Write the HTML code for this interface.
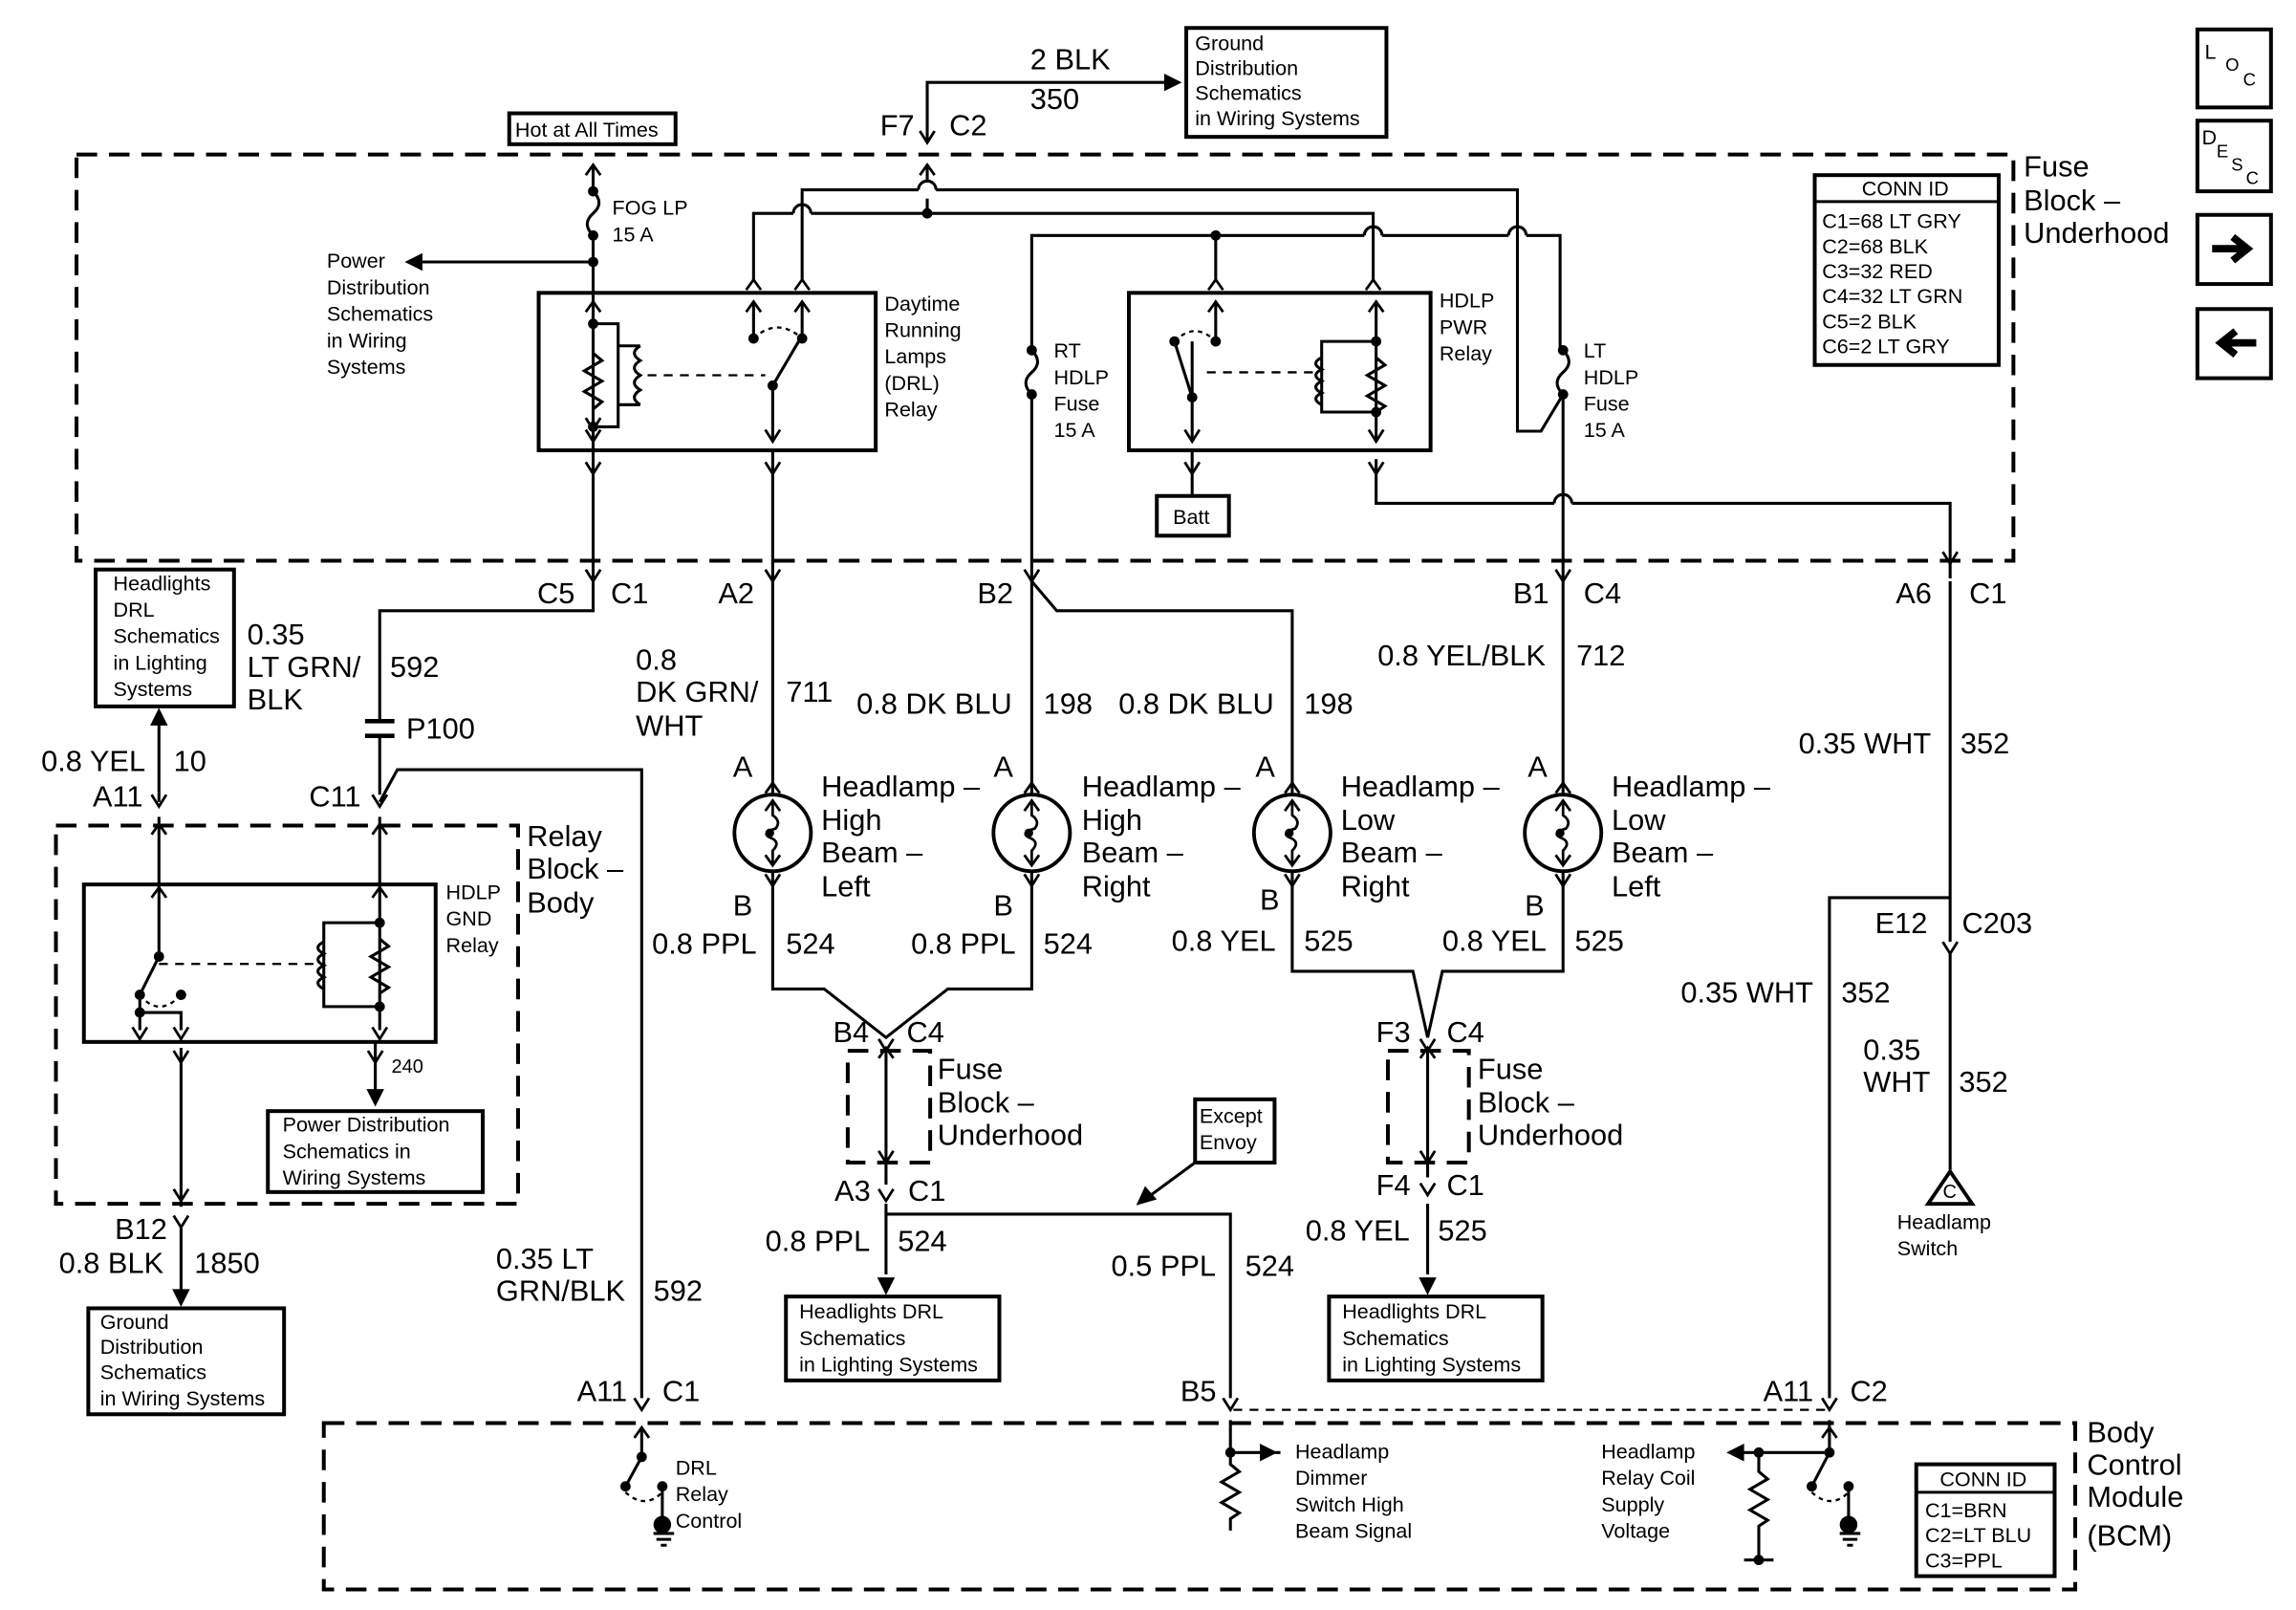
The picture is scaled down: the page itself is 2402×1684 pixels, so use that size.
<!DOCTYPE html>
<html><head><meta charset="utf-8"><style>
html,body{margin:0;padding:0;background:#fff;}
svg{display:block;}
text{font-family:"Liberation Sans",Arial,sans-serif;fill:#000;}
.b{font-size:20px;}
.s{font-size:14px;}
</style></head><body>
<svg width="2402" height="1684" viewBox="0 0 1560 1094" preserveAspectRatio="none" xmlns="http://www.w3.org/2000/svg">
<defs>
<path id="fy" d="M-5,-8 L0,0 L5,-8" fill="none" stroke="#000" stroke-width="1.8"/>
<path id="ca" d="M-5,7 L0,0 L5,7" fill="none" stroke="#000" stroke-width="1.8"/>
<path id="ah" d="M-6,-12 L6,-12 L0,0 Z" fill="#000"/>
<g id="lamp">
<circle r="26" fill="none" stroke="#000" stroke-width="2.5"/>
<path d="M0,-22 L0,-12 Q6,-8 2,-3 Q-8,0 -2,3 Q6,6 0,12 L0,22" fill="none" stroke="#000" stroke-width="1.8"/>
<path d="M-5,-15 L0,-22 L5,-15 M-5,15 L0,22 L5,15" fill="none" stroke="#000" stroke-width="1.8"/>
<circle cx="-2" cy="0" r="3" fill="#000"/>
</g>
</defs>
<g fill="none" stroke="#000" stroke-width="2">
<g stroke-width="2.6" stroke-dasharray="14,8">
<rect x="52" y="105" width="1316" height="276"/>
<rect x="38" y="561" width="314" height="257"/>
<rect x="220" y="967" width="1190" height="113"/>
<rect x="576" y="714" width="56" height="76"/>
<rect x="943" y="714" width="55" height="76"/>
</g>
<path d="M838,958 H1243" stroke-width="1.5" stroke-dasharray="6,5"/>
<g stroke-width="2.6">
<rect x="346" y="77" width="113" height="21"/>
<rect x="806" y="19" width="136" height="74"/>
<rect x="1233" y="119" width="125" height="129"/>
<rect x="366" y="199" width="229" height="107"/>
<rect x="767" y="199" width="205" height="107"/>
<rect x="786" y="337" width="49" height="27"/>
<rect x="65" y="387" width="94" height="93"/>
<rect x="57" y="601" width="239" height="107"/>
<rect x="182" y="755" width="146" height="55"/>
<rect x="60" y="889" width="133" height="72"/>
<rect x="534" y="881" width="145" height="57"/>
<rect x="903" y="881" width="145" height="57"/>
<rect x="812" y="747" width="54" height="43"/>
<rect x="1302" y="995" width="94" height="76"/>
<rect x="1493" y="20" width="50" height="53"/>
<rect x="1493" y="82" width="50" height="48"/>
<rect x="1493" y="146" width="50" height="47"/>
<rect x="1493" y="210" width="50" height="47"/>
</g>
<path d="M1233,137 H1358 M1302,1014 H1396"/>
<path d="M1503,169 H1525 M1517,161 L1527,169 L1517,177" stroke-width="5" fill="none"/>
<path d="M1533,233 H1511 M1519,225 L1509,233 L1519,241" stroke-width="5"/>

<path d="M630,95 V56 H795"/>
<path d="M630,112 V124 M630,135 V145"/>
<path d="M624,129 a6,6 0 0 1 12,0" />
<path d="M545,190 V129 H624 M636,129 H1031 V293 H1047 L1062,268"/>
<path d="M512,190 V145 H539 M551,145 H933 V190"/>
<path d="M539,145 a6,6 0 0 1 12,0"/>
<path d="M701,238 V160 H927 M939,160 H1025 M1037,160 H1060 V238"/>
<path d="M927,160 a6,6 0 0 1 12,0 M1025,160 a6,6 0 0 1 12,0"/>
<path d="M826,160 V190"/>
<path d="M701,238 Q709,246 701,253 Q693,260 701,268 V393"/>
<path d="M1062,238 Q1070,246 1062,253 Q1054,260 1062,268 V393"/>
<path d="M403,112 V130 M403,130 Q411,138 403,145 Q395,152 403,160 V393"/>
<path d="M403,178 H280"/>
<path d="M403,205 V300 M403,220 H420 V290 H403"/>
<path d="M403,240 l6,5 l-12,7 l12,7 l-12,7 l12,7 l-6,5"/>
<path d="M435,235 q-8,5 0,10 q-8,5 0,10 q-8,5 0,10 q-8,5 0,10 M435,235 H420 M435,275 H420"/>
<path d="M440,255 H520" stroke-dasharray="6,5" stroke-width="1.5"/>
<path d="M512,205 V230 M545,205 V228 L525,262 M525,262 V300"/>
<path d="M512,230 Q528,215 545,230" stroke-dasharray="3,3" stroke-width="1.5"/>
<path d="M525,306 V393"/>
<path d="M826,205 V232 M810,232 L810,270 V300 M810,270 L798,232"/>
<path d="M798,232 Q812,218 826,232" stroke-dasharray="3,3" stroke-width="1.5"/>
<path d="M935,205 V300 M935,232 H898 V280 H935"/>
<path d="M935,243 l6,5 l-12,7 l12,7 l-12,7 l12,7 l-6,4"/>
<path d="M898,243 q-8,4 0,8 q-8,4 0,8 q-8,4 0,8 q-8,4 0,8"/>
<path d="M820,253 H895" stroke-dasharray="6,5" stroke-width="1.5"/>
<path d="M810,306 V337"/>
<path d="M935,312 V342 H1056 M1068,342 H1325 V393"/>
<path d="M1056,342 a6,6 0 0 1 12,0"/>

<path d="M403,395 V415 H258 V490 M258,500 V540"/>
<path d="M248,490 H268 M248,500 H268" stroke-width="3"/>
<path d="M258,545 L270,523 H436 V950"/>
<path d="M525,395 V540 M701,395 V540 M701,395 L718,415 H878 V540 M1062,395 V540 M1325,395 V640"/>
<path d="M525,592 V672 H560 L602,705 L644,672 H701 V592"/>
<path d="M878,592 V660 H960 L970,705 L980,660 H1062 V592"/>
<path d="M602,712 V805 M970,712 V800"/>
<path d="M602,818 V866 M602,825 H836 V950"/>
<path d="M970,818 V866"/>
<path d="M1325,648 V795 M1243,950 V610 H1325"/>
<path d="M1310,818 L1325,796 L1340,818 Z" stroke-width="2.5"/>
<path d="M812,790 L778,815"/>
<path d="M108,545 V490 M108,555 V650 L95,676 V700 M95,688 H123 V700"/>
<path d="M95,676 Q108,692 123,676" stroke-dasharray="3,3" stroke-width="1.5"/>
<path d="M108,655 H215" stroke-dasharray="6,5" stroke-width="1.5"/>
<path d="M258,555 V700 M258,627 H220 V684 H258"/>
<path d="M258,638 l6,5 l-12,7 l12,7 l-12,7 l12,7 l-6,4"/>
<path d="M220,640 q-8,4 0,8 q-8,4 0,8 q-8,4 0,8 q-8,4 0,8"/>
<path d="M255,708 V745 M123,712 V820 M123,832 V878"/>
<path d="M436,970 V990 L425,1010 M450,1010 V1032"/>
<path d="M425,1014 Q438,1026 450,1014" stroke-dasharray="3,3" stroke-width="1.5"/>
<path d="M444,1042 H458 M446,1046 H456 M449,1050 H453"/>
<path d="M836,965 V987 H870 M836,987 V995 l6,5 l-12,7 l12,7 l-12,7 l12,7 l-6,4 V1040"/>
<path d="M1243,965 V987 H1175 M1195,987 V1000 l6,5 l-12,7 l12,7 l-12,7 l12,7 l-6,4 V1060 M1185,1060 H1205 M1243,987 L1231,1010 M1256,1010 V1032"/>
<path d="M1231,1014 Q1244,1026 1256,1014" stroke-dasharray="3,3" stroke-width="1.5"/>
<path d="M1250,1042 H1264 M1252,1046 H1262 M1255,1050 H1259"/>
</g>
<g fill="#000">
<circle cx="630" cy="145" r="3.5"/><circle cx="826" cy="160" r="3.5"/>
<circle cx="403" cy="178" r="3.5"/><circle cx="403" cy="130" r="3.5"/><circle cx="403" cy="160" r="3.5"/>
<circle cx="701" cy="238" r="3.5"/><circle cx="701" cy="268" r="3.5"/>
<circle cx="1062" cy="238" r="3.5"/><circle cx="1062" cy="268" r="3.5"/>
<circle cx="403" cy="220" r="3.5"/><circle cx="403" cy="290" r="3.5"/>
<circle cx="512" cy="230" r="3.5"/><circle cx="545" cy="230" r="3.5"/><circle cx="525" cy="262" r="3.5"/>
<circle cx="798" cy="232" r="3.5"/><circle cx="826" cy="232" r="3.5"/><circle cx="810" cy="270" r="3.5"/>
<circle cx="935" cy="232" r="3.5"/><circle cx="935" cy="280" r="3.5"/>
<circle cx="108" cy="650" r="3.5"/><circle cx="95" cy="676" r="3.5"/><circle cx="123" cy="676" r="3.5"/><circle cx="95" cy="688" r="3.5"/>
<circle cx="258" cy="627" r="3.5"/><circle cx="258" cy="684" r="3.5"/>
<circle cx="436" cy="990" r="3.5"/><circle cx="425" cy="1010" r="3.5"/><circle cx="450" cy="1010" r="3.5"/><circle cx="450" cy="1036" r="6"/>
<circle cx="836" cy="987" r="3.5"/><circle cx="1195" cy="987" r="3.5"/><circle cx="1243" cy="987" r="3.5"/><circle cx="1195" cy="1060" r="3.5"/>
<circle cx="1231" cy="1010" r="3.5"/><circle cx="1256" cy="1010" r="3.5"/><circle cx="1256" cy="1036" r="6"/>
<path d="M803,56 L791,50 V62 Z"/>
<path d="M275,178 L287,172 V184 Z"/>
<path d="M868,987 L856,981 V993 Z"/>
<path d="M1173,987 L1185,981 V993 Z"/>
<path d="M772,819 L778,806 L786,815 Z"/>
<path d="M108,481 L102,493 H114 Z"/>
</g>
<g>
<use href="#fy" x="630" y="97"/><use href="#ca" x="630" y="112"/>
<use href="#ca" x="403" y="112"/>
<use href="#ca" x="512" y="190"/><use href="#ca" x="545" y="190"/><use href="#ca" x="826" y="190"/><use href="#ca" x="933" y="190"/>
<use href="#ca" x="512" y="205"/><use href="#ca" x="545" y="205"/><use href="#ca" x="826" y="205"/><use href="#ca" x="935" y="205"/><use href="#ca" x="403" y="205"/>
<use href="#fy" x="403" y="300"/><use href="#fy" x="525" y="300"/><use href="#fy" x="810" y="300"/><use href="#fy" x="935" y="300"/><use href="#fy" x="403" y="292"/>
<use href="#fy" x="403" y="322"/><use href="#fy" x="525" y="322"/><use href="#fy" x="810" y="322"/><use href="#fy" x="935" y="322"/>
<use href="#fy" x="403" y="395"/><use href="#fy" x="525" y="395"/><use href="#fy" x="701" y="395"/><use href="#fy" x="1062" y="395"/><use href="#fy" x="1325" y="383"/>
<use href="#ca" x="525" y="532"/><use href="#ca" x="701" y="532"/><use href="#ca" x="878" y="532"/><use href="#ca" x="1062" y="532"/>
<use href="#fy" x="525" y="602"/><use href="#fy" x="701" y="602"/><use href="#fy" x="878" y="602"/><use href="#fy" x="1062" y="602"/>
<use href="#fy" x="258" y="548"/><use href="#ca" x="258" y="560"/><use href="#ca" x="108" y="560"/><use href="#fy" x="108" y="548"/>
<use href="#ca" x="108" y="603"/><use href="#ca" x="258" y="603"/>
<use href="#fy" x="95" y="706"/><use href="#fy" x="123" y="706"/><use href="#fy" x="258" y="706"/>
<use href="#fy" x="123" y="722"/><use href="#fy" x="255" y="722"/><use href="#fy" x="123" y="816"/><use href="#fy" x="123" y="834"/>
<use href="#fy" x="602" y="714"/><use href="#ca" x="602" y="712"/><use href="#fy" x="602" y="790"/><use href="#fy" x="602" y="816"/>
<use href="#fy" x="970" y="714"/><use href="#ca" x="970" y="712"/><use href="#fy" x="970" y="790"/><use href="#fy" x="970" y="812"/>
<use href="#fy" x="1325" y="648"/>
<use href="#fy" x="436" y="958"/><use href="#fy" x="836" y="958"/><use href="#fy" x="1243" y="958"/>
<use href="#ca" x="436" y="970"/><use href="#ca" x="1243" y="970"/>
<use href="#ah" x="255" y="752"/><use href="#ah" x="123" y="888"/><use href="#ah" x="602" y="880"/><use href="#ah" x="970" y="880"/>
<use href="#lamp" x="525" y="566"/><use href="#lamp" x="701" y="566"/><use href="#lamp" x="878" y="566"/><use href="#lamp" x="1062" y="566"/>
</g>

<g class="s">
<text x="350" y="93">Hot at All Times</text>
<text x="416" y="146">FOG LP</text><text x="416" y="164">15 A</text>
<text x="222" y="182">Power</text><text x="222" y="200">Distribution</text><text x="222" y="218">Schematics</text><text x="222" y="236">in Wiring</text><text x="222" y="254">Systems</text>
<text x="812" y="34">Ground</text><text x="812" y="51">Distribution</text><text x="812" y="68">Schematics</text><text x="812" y="85">in Wiring Systems</text>
<text x="1265" y="133">CONN ID</text>
<text x="1238" y="155">C1=68 LT GRY</text><text x="1238" y="172">C2=68 BLK</text><text x="1238" y="189">C3=32 RED</text><text x="1238" y="206">C4=32 LT GRN</text><text x="1238" y="223">C5=2 BLK</text><text x="1238" y="240">C6=2 LT GRY</text>
<text x="601" y="211">Daytime</text><text x="601" y="229">Running</text><text x="601" y="247">Lamps</text><text x="601" y="265">(DRL)</text><text x="601" y="283">Relay</text>
<text x="716" y="243">RT</text><text x="716" y="261">HDLP</text><text x="716" y="279">Fuse</text><text x="716" y="297">15 A</text>
<text x="978" y="209">HDLP</text><text x="978" y="227">PWR</text><text x="978" y="245">Relay</text>
<text x="1076" y="243">LT</text><text x="1076" y="261">HDLP</text><text x="1076" y="279">Fuse</text><text x="1076" y="297">15 A</text>
<text x="797" y="356">Batt</text>
<text x="77" y="401">Headlights</text><text x="77" y="419">DRL</text><text x="77" y="437">Schematics</text><text x="77" y="455">in Lighting</text><text x="77" y="473">Systems</text>
<text x="303" y="611">HDLP</text><text x="303" y="629">GND</text><text x="303" y="647">Relay</text>
<text x="266" y="729" style="font-size:13px">240</text>
<text x="192" y="769">Power Distribution</text><text x="192" y="787">Schematics in</text><text x="192" y="805">Wiring Systems</text>
<text x="68" y="903">Ground</text><text x="68" y="920">Distribution</text><text x="68" y="937">Schematics</text><text x="68" y="955">in Wiring Systems</text>
<text x="543" y="896">Headlights DRL</text><text x="543" y="914">Schematics</text><text x="543" y="932">in Lighting Systems</text>
<text x="912" y="896">Headlights DRL</text><text x="912" y="914">Schematics</text><text x="912" y="932">in Lighting Systems</text>
<text x="815" y="763">Except</text><text x="815" y="781">Envoy</text>
<text x="1320" y="814" style="font-size:13px">C</text>
<text x="1289" y="835">Headlamp</text><text x="1289" y="853">Switch</text>
<text x="459" y="1002">DRL</text><text x="459" y="1020">Relay</text><text x="459" y="1038">Control</text>
<text x="880" y="991">Headlamp</text><text x="880" y="1009">Dimmer</text><text x="880" y="1027">Switch High</text><text x="880" y="1045">Beam Signal</text>
<text x="1088" y="991">Headlamp</text><text x="1088" y="1009">Relay Coil</text><text x="1088" y="1027">Supply</text><text x="1088" y="1045">Voltage</text>
<text x="1318" y="1010">CONN ID</text>
<text x="1308" y="1031">C1=BRN</text><text x="1308" y="1048">C2=LT BLU</text><text x="1308" y="1065">C3=PPL</text>
<text x="1498" y="40">L</text><text x="1512" y="48" style="font-size:12px">O</text><text x="1524" y="58" style="font-size:12px">C</text>
<text x="1496" y="98">D</text><text x="1506" y="107" style="font-size:12px">E</text><text x="1516" y="116" style="font-size:12px">S</text><text x="1526" y="125" style="font-size:12px">C</text>
</g>
<g class="b">
<text x="598" y="92">F7</text><text x="645" y="92">C2</text>
<text x="700" y="47">2 BLK</text><text x="700" y="74">350</text>
<text x="1375" y="120">Fuse</text><text x="1375" y="143">Block –</text><text x="1375" y="165">Underhood</text>
<text x="365" y="410">C5</text><text x="415" y="410">C1</text><text x="488" y="410">A2</text><text x="664" y="410">B2</text>
<text x="1028" y="410">B1</text><text x="1076" y="410">C4</text><text x="1288" y="410">A6</text><text x="1338" y="410">C1</text>
<text x="432" y="455">0.8</text><text x="432" y="477">DK GRN/</text><text x="432" y="500">WHT</text><text x="534" y="477">711</text>
<text x="582" y="485">0.8 DK BLU</text><text x="709" y="485">198</text>
<text x="760" y="485">0.8 DK BLU</text><text x="886" y="485">198</text>
<text x="936" y="452">0.8 YEL/BLK</text><text x="1071" y="452">712</text>
<text x="1222" y="512">0.35 WHT</text><text x="1332" y="512">352</text>
<text x="168" y="438">0.35</text><text x="168" y="460">LT GRN/</text><text x="168" y="482">BLK</text><text x="265" y="460">592</text>
<text x="276" y="502">P100</text>
<text x="28" y="524">0.8 YEL</text><text x="118" y="524">10</text>
<text x="63" y="548">A11</text><text x="210" y="548">C11</text>
<text x="498" y="528">A</text><text x="675" y="528">A</text><text x="853" y="528">A</text><text x="1038" y="528">A</text>
<text x="498" y="622">B</text><text x="675" y="622">B</text><text x="856" y="618">B</text><text x="1036" y="622">B</text>
<text x="558" y="541">Headlamp –</text><text x="558" y="564">High</text><text x="558" y="586">Beam –</text><text x="558" y="609">Left</text>
<text x="735" y="541">Headlamp –</text><text x="735" y="564">High</text><text x="735" y="586">Beam –</text><text x="735" y="609">Right</text>
<text x="911" y="541">Headlamp –</text><text x="911" y="564">Low</text><text x="911" y="586">Beam –</text><text x="911" y="609">Right</text>
<text x="1095" y="541">Headlamp –</text><text x="1095" y="564">Low</text><text x="1095" y="586">Beam –</text><text x="1095" y="609">Left</text>
<text x="443" y="648">0.8 PPL</text><text x="534" y="648">524</text>
<text x="619" y="648">0.8 PPL</text><text x="709" y="648">524</text>
<text x="796" y="646">0.8 YEL</text><text x="886" y="646">525</text>
<text x="980" y="646">0.8 YEL</text><text x="1070" y="646">525</text>
<text x="358" y="575">Relay</text><text x="358" y="597">Block –</text><text x="358" y="620">Body</text>
<text x="566" y="708">B4</text><text x="616" y="708">C4</text>
<text x="637" y="733">Fuse</text><text x="637" y="756">Block –</text><text x="637" y="778">Underhood</text>
<text x="567" y="816">A3</text><text x="617" y="816">C1</text>
<text x="935" y="708">F3</text><text x="983" y="708">C4</text>
<text x="1004" y="733">Fuse</text><text x="1004" y="756">Block –</text><text x="1004" y="778">Underhood</text>
<text x="935" y="812">F4</text><text x="983" y="812">C1</text>
<text x="520" y="850">0.8 PPL</text><text x="610" y="850">524</text>
<text x="755" y="867">0.5 PPL</text><text x="846" y="867">524</text>
<text x="887" y="843">0.8 YEL</text><text x="977" y="843">525</text>
<text x="1274" y="634">E12</text><text x="1333" y="634">C203</text>
<text x="1142" y="681">0.35 WHT</text><text x="1251" y="681">352</text>
<text x="1266" y="720">0.35</text><text x="1266" y="742">WHT</text><text x="1331" y="742">352</text>
<text x="78" y="842">B12</text><text x="40" y="865">0.8 BLK</text><text x="132" y="865">1850</text>
<text x="337" y="862">0.35 LT</text><text x="337" y="884">GRN/BLK</text><text x="444" y="884">592</text>
<text x="392" y="952">A11</text><text x="450" y="952">C1</text><text x="802" y="952">B5</text>
<text x="1198" y="952">A11</text><text x="1257" y="952">C2</text>
<text x="1418" y="980">Body</text><text x="1418" y="1002">Control</text><text x="1418" y="1024">Module</text><text x="1418" y="1050">(BCM)</text>
</g>
</svg>
</body></html>
